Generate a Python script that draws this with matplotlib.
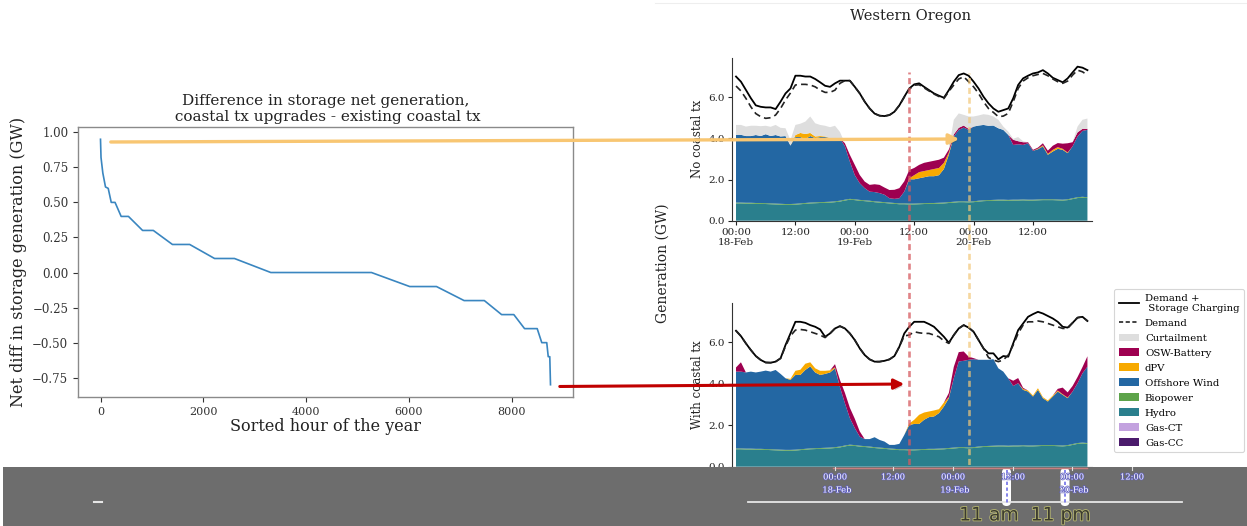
import matplotlib
matplotlib.use('Agg')
import matplotlib.pyplot as plt
from matplotlib.lines import Line2D
from matplotlib.patches import Patch, FancyArrowPatch, Rectangle, FancyBboxPatch
import matplotlib.transforms as mtransforms
import matplotlib.patheffects as pe

plt.rcParams['font.family'] = ['DejaVu Serif']
plt.rcParams['axes.unicode_minus'] = True

# ---------------- Left panel data ----------------
sorted_hour = [0, 10, 45, 97, 150, 209, 283, 402, 544, 819, 1028, 1400, 1736, 2220, 2607,
               3315, 5274, 6019, 6540, 7077, 7471, 7807, 8045, 8254, 8500, 8589, 8686,
               8715, 8745, 8759]
net_diff = [0.95, 0.82, 0.71, 0.61, 0.60, 0.50, 0.50, 0.40, 0.40, 0.30, 0.30, 0.20, 0.20,
            0.10, 0.10, 0.00, 0.00, -0.10, -0.10, -0.20, -0.20, -0.30, -0.30, -0.40,
            -0.40, -0.50, -0.50, -0.60, -0.60, -0.80]
left_xticks = [0, 2000, 4000, 6000, 8000]
left_yticks = [-0.75, -0.50, -0.25, 0.00, 0.25, 0.50, 0.75, 1.00]

# ---------------- Right panel data (hourly, 18-Feb 00:00 .. 20-Feb 23:00) ----------------
hours = list(range(72))
tick_hours = [0, 12, 24, 36, 48, 60]
tick_labels = ['00:00\n18-Feb', '12:00', '00:00\n19-Feb', '12:00', '00:00\n20-Feb', '12:00']
event_hours = [35, 47]   # 11 am, 11 pm on 19-Feb

hydro = [0.84, 0.84, 0.83, 0.83, 0.82, 0.82, 0.81, 0.80, 0.79, 0.78, 0.77, 0.77,
         0.78, 0.80, 0.82, 0.84, 0.85, 0.86, 0.87, 0.88, 0.90, 0.93, 0.98, 1.02,
         1.00, 0.97, 0.95, 0.93, 0.90, 0.88, 0.86, 0.84, 0.82, 0.80, 0.80, 0.79,
         0.79, 0.80, 0.81, 0.82, 0.82, 0.83, 0.84, 0.86, 0.88, 0.90, 0.90, 0.89,
         0.90, 0.93, 0.95, 0.96, 0.97, 0.98, 0.98, 0.97, 0.98, 0.98, 0.99, 0.98,
         0.98, 0.99, 1.00, 1.00, 1.00, 0.99, 0.98, 1.00, 1.05, 1.10, 1.12, 1.10]
biopower = [0.04, 0.04, 0.04, 0.04, 0.04, 0.04, 0.04, 0.04, 0.04, 0.04, 0.04, 0.04,
            0.04, 0.04, 0.04, 0.04, 0.04, 0.04, 0.04, 0.04, 0.04, 0.04, 0.04, 0.04,
            0.04, 0.04, 0.04, 0.04, 0.04, 0.04, 0.04, 0.04, 0.04, 0.04, 0.04, 0.04,
            0.04, 0.04, 0.04, 0.04, 0.04, 0.04, 0.04, 0.04, 0.04, 0.04, 0.04, 0.04,
            0.04, 0.04, 0.04, 0.04, 0.04, 0.04, 0.04, 0.04, 0.04, 0.04, 0.04, 0.04,
            0.04, 0.04, 0.04, 0.04, 0.04, 0.04, 0.04, 0.04, 0.04, 0.04, 0.04, 0.04]
gas_ct = [0.0] * 72
gas_cc = [0.0] * 72

# No coastal tx
nc_wind = [3.29, 3.29, 3.24, 3.24, 3.30, 3.25, 3.35, 3.27, 3.33, 3.27, 3.30, 2.84,
           3.24, 3.22, 3.10, 3.23, 3.12, 3.16, 3.15, 3.09, 3.07, 3.04, 2.59, 1.81,
           1.17, 0.81, 0.59, 0.44, 0.45, 0.42, 0.36, 0.21, 0.20, 0.25, 0.57, 1.18,
           1.18, 1.22, 1.26, 1.30, 1.30, 1.34, 1.63, 2.31, 3.17, 3.47, 3.58, 3.48,
           3.63, 3.65, 3.66, 3.61, 3.61, 3.47, 3.39, 3.16, 2.66, 2.69, 2.65, 2.74,
           2.37, 2.44, 2.57, 2.16, 2.32, 2.46, 2.42, 2.24, 2.52, 2.95, 3.20, 3.27]
nc_dpv = [0, 0, 0, 0, 0, 0, 0, 0, 0, 0, 0, 0,
          0.10, 0.20, 0.25, 0.15, 0.08, 0.05, 0.03, 0, 0, 0, 0, 0,
          0, 0, 0, 0, 0, 0, 0, 0, 0, 0, 0, 0.05,
          0.20, 0.30, 0.30, 0.30, 0.35, 0.35, 0.30, 0.10, 0, 0, 0, 0,
          0, 0, 0, 0, 0, 0, 0, 0, 0, 0, 0, 0,
          0, 0.03, 0.05, 0.05, 0.08, 0.08, 0.05, 0.03, 0, 0, 0, 0]
nc_battery = [0, 0, 0, 0, 0, 0, 0, 0, 0, 0, 0, 0,
              0, 0, 0, 0, 0, 0, 0, 0, 0, 0, 0.15, 0.33,
              0.50, 0.40, 0.32, 0.33, 0.38, 0.40, 0.35, 0.40, 0.44, 0.49, 0.50, 0.40,
              0.35, 0.35, 0.40, 0.40, 0.40, 0.40, 0.25, 0.15, 0.10, 0.10, 0.10, 0.05,
              0, 0, 0, 0, 0, 0, 0, 0, 0.25, 0.15, 0.13, 0.05,
              0.05, 0.05, 0.10, 0.15, 0.20, 0.20, 0.25, 0.45, 0.20, 0.20, 0.10, 0.05]
nc_curtail = [0.48, 0.48, 0.46, 0.50, 0.45, 0.48, 0.41, 0.45, 0.49, 0.42, 0.38, 0.26,
              0.49, 0.45, 0.60, 0.80, 0.64, 0.54, 0.52, 0.53, 0.60, 0.30, 0, 0,
              0, 0, 0, 0, 0, 0, 0, 0, 0, 0, 0, 0,
              0, 0, 0, 0, 0, 0, 0, 0, 0.71, 0.70, 0.52, 0.60,
              0.49, 0.49, 0.52, 0.53, 0.44, 0.41, 0.16, 0.16, 0.05, 0.20, 0.05, 0,
              0, 0, 0, 0, 0, 0, 0, 0, 0, 0.28, 0.44, 0.50]
nc_demand_storage = [7.00, 6.75, 6.35, 5.95, 5.60, 5.53, 5.50, 5.50, 5.42, 5.78, 6.18, 6.42,
                     7.04, 7.04, 7.00, 7.00, 6.88, 6.72, 6.55, 6.50, 6.67, 6.80, 6.80, 6.80,
                     6.50, 6.18, 5.78, 5.45, 5.20, 5.10, 5.08, 5.13, 5.29, 5.60, 6.02, 6.42,
                     6.62, 6.67, 6.50, 6.34, 6.18, 6.07, 5.97, 6.34, 6.75, 7.07, 7.15, 7.04,
                     6.75, 6.42, 6.02, 5.70, 5.45, 5.29, 5.37, 5.45, 5.94, 6.59, 6.91, 7.04,
                     7.15, 7.20, 7.31, 7.15, 6.94, 6.83, 6.72, 6.91, 7.20, 7.48, 7.43, 7.31]
nc_demand = [6.54, 6.30, 5.94, 5.53, 5.20, 5.05, 4.97, 5.00, 5.13, 5.45, 5.86, 6.20,
             6.59, 6.62, 6.62, 6.59, 6.50, 6.34, 6.23, 6.23, 6.34, 6.67, 6.80, 6.80,
             6.50, 6.18, 5.78, 5.45, 5.20, 5.10, 5.08, 5.13, 5.29, 5.60, 6.00, 6.38,
             6.58, 6.60, 6.45, 6.30, 6.15, 6.03, 5.93, 6.28, 6.59, 6.88, 6.99, 6.75,
             6.50, 6.18, 5.78, 5.45, 5.26, 5.05, 5.08, 5.21, 5.78, 6.42, 6.78, 6.94,
             7.04, 7.10, 7.15, 7.04, 6.88, 6.75, 6.67, 6.78, 7.07, 7.31, 7.23, 7.07]

# With coastal tx
wc_wind = [3.70, 3.70, 3.67, 3.71, 3.68, 3.72, 3.78, 3.74, 3.83, 3.65, 3.45, 3.37,
           3.60, 3.58, 3.80, 3.95, 3.65, 3.52, 3.56, 3.62, 3.80, 2.86, 2.04, 1.28,
           0.82, 0.44, 0.34, 0.36, 0.48, 0.37, 0.31, 0.17, 0.19, 0.26, 0.69, 1.18,
           1.23, 1.22, 1.41, 1.53, 1.56, 1.71, 2.02, 2.40, 3.34, 4.13, 4.16, 4.22,
           4.24, 4.18, 4.16, 4.15, 4.17, 3.72, 3.56, 3.25, 2.87, 3.00, 2.67, 2.60,
           2.36, 2.67, 2.26, 2.10, 2.34, 2.59, 2.44, 2.26, 2.53, 2.88, 3.34, 3.68]
wc_dpv = [0, 0, 0, 0, 0, 0, 0, 0, 0, 0, 0, 0.05,
          0.20, 0.25, 0.30, 0.20, 0.20, 0.20, 0.15, 0.10, 0.05, 0, 0, 0,
          0, 0, 0, 0, 0, 0, 0, 0, 0, 0, 0, 0.07,
          0.20, 0.44, 0.35, 0.27, 0.29, 0.19, 0.19, 0.05, 0, 0, 0, 0,
          0, 0, 0, 0, 0, 0, 0, 0, 0, 0, 0.05, 0.05,
          0.05, 0.08, 0.05, 0.05, 0.05, 0.05, 0.03, 0.03, 0, 0, 0, 0]
wc_battery = [0.20, 0.45, 0, 0, 0, 0, 0, 0, 0, 0, 0, 0,
              0, 0, 0, 0, 0, 0, 0, 0, 0.15, 0.35, 0.50, 0.50,
              0.45, 0.25, 0, 0, 0, 0, 0, 0, 0, 0, 0, 0,
              0, 0, 0, 0, 0, 0, 0, 0.20, 0.55, 0.45, 0.45, 0.15,
              0.05, 0, 0, 0, 0, 0, 0, 0, 0.25, 0.25, 0.05, 0,
              0, 0, 0, 0, 0, 0.08, 0.32, 0.25, 0.27, 0.30, 0.30, 0.50]
wc_curtail = [0.0] * 72
wc_demand_storage = [6.55, 6.29, 5.94, 5.62, 5.33, 5.14, 5.02, 5.01, 5.06, 5.22, 5.86, 6.42,
                     6.98, 6.98, 6.93, 6.82, 6.74, 6.61, 6.26, 6.42, 6.66, 6.77, 6.66, 6.42,
                     6.10, 5.70, 5.38, 5.17, 5.06, 5.06, 5.10, 5.17, 5.33, 5.78, 6.42, 6.74,
                     6.98, 6.98, 6.98, 6.87, 6.74, 6.50, 6.26, 5.97, 6.34, 6.66, 6.82, 6.70,
                     6.50, 6.10, 5.70, 5.46, 5.46, 5.17, 5.33, 5.30, 5.94, 6.58, 6.90, 7.22,
                     7.35, 7.46, 7.38, 7.26, 7.14, 6.98, 6.74, 6.70, 6.93, 7.18, 7.22, 7.02]
wc_demand = [6.55, 6.29, 5.94, 5.62, 5.33, 5.14, 5.02, 5.01, 5.06, 5.22, 5.80, 6.30,
             6.58, 6.61, 6.58, 6.50, 6.42, 6.34, 6.22, 6.42, 6.66, 6.77, 6.66, 6.42,
             6.10, 5.70, 5.38, 5.17, 5.06, 5.06, 5.10, 5.17, 5.33, 5.78, 6.30, 6.34,
             6.50, 6.45, 6.42, 6.42, 6.34, 6.26, 6.06, 5.94, 6.34, 6.66, 6.82, 6.70,
             6.50, 6.10, 5.70, 5.26, 5.14, 5.06, 5.14, 5.38, 5.86, 6.42, 6.82, 6.98,
             6.98, 7.02, 6.98, 6.90, 6.82, 6.74, 6.66, 6.66, 6.93, 7.18, 7.22, 7.02]

tech_names = ['Gas-CC', 'Gas-CT', 'Hydro', 'Biopower', 'Offshore Wind', 'dPV',
              'OSW-Battery', 'Curtailment']
tech_colors = {'Curtailment': '#dedede', 'OSW-Battery': '#9e0050', 'dPV': '#f7a900',
               'Offshore Wind': '#2367a3', 'Biopower': '#5da34a', 'Hydro': '#2a7f8d',
               'Gas-CT': '#c3a2df', 'Gas-CC': '#4b1b6c'}

# ---------------- Figure ----------------
fig = plt.figure(figsize=(12.47, 5.26), dpi=100)
W, H = 1247.0, 526.0

def fx(px):
    return px / W

def fy(py):
    return 1 - py / H

# Left panel
axL = fig.add_axes([fx(78), fy(397), fx(573) - fx(78), fy(127) - fy(397)])
axL.plot(sorted_hour, net_diff, color='#3a86c0', lw=1.2)
axL.set_xticks(left_xticks)
axL.set_yticks(left_yticks)
axL.tick_params(labelsize=8.5, colors='#333333', length=3.5)
axL.tick_params(axis='x', labelsize=8)
for s in axL.spines.values():
    s.set_color('#8a8a8a')
    s.set_linewidth(1.0)
axL.set_title('Difference in storage net generation,\n coastal tx upgrades - existing coastal tx',
              fontsize=11, color='#222222', pad=4)
axL.set_xlabel('Sorted hour of the year', fontsize=11.5, labelpad=1, color='#222222')
axL.set_ylabel('Net diff in storage generation (GW)', fontsize=11.5, labelpad=4, color='#222222')

# Right panels
ax_left_px, ax_right_px = 731.7, 1091.7
axT = fig.add_axes([fx(ax_left_px), fy(220.7), fx(ax_right_px) - fx(ax_left_px), fy(58) - fy(220.7)])
axB = fig.add_axes([fx(ax_left_px), fy(466.7), fx(ax_right_px) - fx(ax_left_px), fy(302.7) - fy(466.7)])

panels = [
    (axT, nc_wind, nc_dpv, nc_battery, nc_curtail, nc_demand_storage, nc_demand, 'No coastal tx'),
    (axB, wc_wind, wc_dpv, wc_battery, wc_curtail, wc_demand_storage, wc_demand, 'With coastal tx'),
]
for ax, wind, dpv, batt, curt, dstor, dem, lab in panels:
    series = {'Gas-CC': gas_cc, 'Gas-CT': gas_ct, 'Hydro': hydro, 'Biopower': biopower,
              'Offshore Wind': wind, 'dPV': dpv, 'OSW-Battery': batt, 'Curtailment': curt}
    ax.stackplot(hours, [series[n] for n in tech_names],
                 colors=[tech_colors[n] for n in tech_names], linewidth=0)
    ax.plot(hours, dstor, color='black', lw=1.3)
    ax.plot(hours, dem, color='#222222', lw=1.2, ls=(0, (4, 2.5)))
    ax.set_xlim(-0.87, 71.86)
    ax.set_ylim(0, 7.9)
    ax.set_yticks([0, 2, 4, 6])
    ax.set_yticklabels(['0.0', '2.0', '4.0', '6.0'])
    ax.set_xticks(tick_hours)
    ax.set_xticklabels(tick_labels)
    ax.tick_params(labelsize=7.5, length=3, colors='#222222', pad=2)
    ax.spines['top'].set_visible(False)
    ax.spines['right'].set_visible(False)
    ax.spines['left'].set_color('#333333')
    ax.spines['bottom'].set_color('#333333')
    ax.set_facecolor('none')
    ax.set_ylabel(lab, fontsize=8.5, labelpad=3, color='#222222')
# the lower panel's own date labels are hidden by the screenshot band
axB.tick_params(axis='x', labelbottom=False)

fig.text(fx(911), fy(16), 'Western Oregon', ha='center', va='center', fontsize=10.5, color='#222222')
fig.text(fx(663), fy(263), 'Generation (GW)', ha='center', va='center', rotation=90,
         fontsize=10, color='#222222')

# faint rule at the top of right panel region
fig.add_artist(Line2D([fx(655), 1.0], [fy(3), fy(3)], color='#eeeeee', lw=0.8))

# event lines spanning both panels
blend = mtransforms.blended_transform_factory(axT.transData, fig.transFigure)
fig.add_artist(Line2D([event_hours[0]] * 2, [0.08, fy(72)], transform=blend,
                      color='#d65a5f', alpha=0.75, lw=1.9, ls=(0, (2.3, 1.4)), zorder=5))
fig.add_artist(Line2D([event_hours[1]] * 2, [0.08, fy(73)], transform=blend,
                      color='#f2c777', alpha=0.7, lw=1.9, ls=(0, (2.3, 1.4)), zorder=5))

# Legend
handles = [Line2D([], [], color='black', lw=1.3, label='Demand +\n Storage Charging'),
           Line2D([], [], color='#222222', lw=1.2, ls=(0, (2.5, 1.5)), label='Demand')]
for n in ['Curtailment', 'OSW-Battery', 'dPV', 'Offshore Wind', 'Biopower', 'Hydro',
          'Gas-CT', 'Gas-CC']:
    handles.append(Patch(facecolor=tech_colors[n], label=n))
leg = fig.legend(handles=handles, loc='upper left', bbox_to_anchor=(fx(1114), fy(289)),
                 fontsize=7.3, frameon=True, handlelength=2.0, handleheight=0.8,
                 labelspacing=0.55, borderpad=0.45, handletextpad=0.6, borderaxespad=0,
                 fancybox=True)
leg.get_frame().set_edgecolor('#cccccc')
leg.get_frame().set_linewidth(0.8)

# Arrows
arrY = FancyArrowPatch((fx(108), fy(142)), (fx(962), fy(139)), transform=fig.transFigure,
                       arrowstyle='-|>', mutation_scale=15, color='#f8c672', lw=2.4, zorder=6)
arrY.set_path_effects([pe.SimplePatchShadow(offset=(1.5, -1.5), alpha=0.2), pe.Normal()])
fig.add_artist(arrY)
arrR = FancyArrowPatch((fx(557), fy(386.5)), (fx(907), fy(384)), transform=fig.transFigure,
                       arrowstyle='-|>', mutation_scale=15, color='#c00000', lw=2.2, zorder=6)
arrR.set_path_effects([pe.SimplePatchShadow(offset=(1.5, -1.5), alpha=0.2), pe.Normal()])
fig.add_artist(arrR)

# Gray screenshot band at the bottom
band = fig.add_axes([0, 0, 1, fy(467)], zorder=20)
band.set_xlim(0, W)
band.set_ylim(H, 467)
band.set_axis_off()
band.add_patch(Rectangle((3, 467), W - 3, H - 467, facecolor='#6d6d6d', edgecolor='none'))
band.plot([833, 1087], [467.6, 467.6], color='#c98080', lw=1.0)
band.plot([748, 1182], [501.5, 501.5], color='#e6e6e6', lw=1.3)
band.plot([94, 102], [501.5, 501.5], color='#e6e6e6', lw=1.5)
for cx in [1006.5, 1065]:
    band.add_patch(FancyBboxPatch((cx - 4.5, 468), 9, 38, boxstyle='round,pad=0,rounding_size=4.5',
                                  facecolor='white', edgecolor='none'))
    band.plot([cx, cx], [470, 503], color='#7070e8', lw=1.2, ls=(0, (2, 1.5)))
band_ticks = [(835, '00:00', '18-Feb'), (893, '12:00', ''), (953, '00:00', '19-Feb'),
              (1013, '12:00', ''), (1072, '00:00', '20-Feb'), (1132, '12:00', '')]
for x, t1, t2 in band_ticks:
    band.plot([x, x], [467, 470], color='#e0e0e0', lw=0.8)
    band.text(x, 477.5, t1, ha='center', va='center', fontsize=6.0, color='white',
              path_effects=[pe.withStroke(linewidth=1.0, foreground='#6060c0')])
    if t2:
        band.text(x + 2, 490.5, t2, ha='center', va='center', fontsize=6.0, color='white',
                  path_effects=[pe.withStroke(linewidth=1.0, foreground='#6060c0')])
band.text(1025, 515, '11 am  11 pm', ha='center', va='center', fontsize=13.5,
          family='DejaVu Sans', color='#3a3a30',
          path_effects=[pe.withStroke(linewidth=1.2, foreground='#b8b870')])

fig.savefig('out.png', dpi=100)
